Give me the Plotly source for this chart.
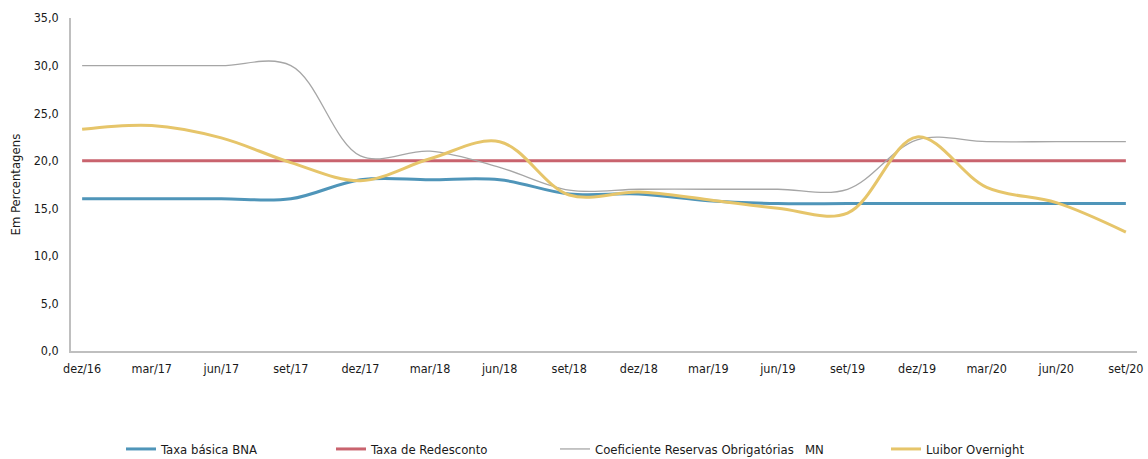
import plotly.graph_objects as go

categories = ["dez/16", "mar/17", "jun/17", "set/17", "dez/17", "mar/18", "jun/18", "set/18",
              "dez/18", "mar/19", "jun/19", "set/19", "dez/19", "mar/20", "jun/20", "set/20"]

taxa_basica = [16.0, 16.0, 16.0, 16.0, 18.0, 18.0, 18.0, 16.5, 16.5, 15.8, 15.5, 15.5, 15.5, 15.5, 15.5, 15.5]
taxa_redesconto = [20.0] * 16
coef_reservas = [30.0, 30.0, 30.0, 30.0, 20.5, 21.0, 19.3, 16.9, 17.0, 17.0, 17.0, 17.0, 22.2, 22.0, 22.0, 22.0]
luibor = [23.3, 23.7, 22.4, 19.8, 17.9, 20.2, 22.0, 16.4, 16.7, 15.9, 15.0, 14.5, 22.5, 17.2, 15.6, 12.5]

names = ["Taxa básica BNA", "Taxa de Redesconto", "Coeficiente Reservas Obrigatórias   MN", "Luibor Overnight"]
colors = ["#4f95b9", "#c9636e", "#a6a6a6", "#e6c56a"]
widths = [3, 3, 1.3, 3]
series = [taxa_basica, taxa_redesconto, coef_reservas, luibor]

FONT = "DejaVu Sans Condensed, Liberation Sans Narrow, Arial Narrow, sans-serif"

fig = go.Figure()
legend_ids = ["legend2", "legend3", "legend4", "legend5"]
for nm, col, w, s, lid in zip(names, colors, widths, series, legend_ids):
    fig.add_trace(go.Scatter(
        x=list(range(len(categories))), y=s, name=nm, mode="lines",
        line=dict(color=col, width=w, shape="spline", smoothing=1.0),
        legend=lid, showlegend=True, hoverinfo="skip"))

L, R, T, B = 71, 11, 18, 108
W, H = 1148, 459
pw = W - L - R
ph = H - T - B
line_starts = [126, 336, 560, 891]

layout_legends = {}
for lid, px in zip(legend_ids, line_starts):
    layout_legends[lid] = dict(
        x=(px - L - 5) / pw, xanchor="left",
        yref="container", y=(H - 449) / H, yanchor="middle",
        orientation="h", bgcolor="rgba(0,0,0,0)", borderwidth=0, visible=True,
        font=dict(family=FONT, size=13, color="#1a1a1a"), itemwidth=30)

fig.update_layout(
    width=W, height=H,
    margin=dict(l=L, r=R, t=T, b=B, autoexpand=False),
    paper_bgcolor="white", plot_bgcolor="white",
    separators=",.",
    showlegend=True,
    font=dict(family=FONT, size=12, color="#1a1a1a"),
    xaxis=dict(
        range=[-0.16, 15.16], tickmode="array", tickvals=list(range(len(categories))),
        ticktext=categories, showgrid=False, zeroline=False, showline=True,
        linecolor="#bfbfbf", linewidth=1.5, ticks="", ticklabelstandoff=5,
        tickfont=dict(family=FONT, size=12.5, color="#1a1a1a")),
    yaxis=dict(
        range=[0, 35], dtick=5, tickformat=".1f", showgrid=False, zeroline=False,
        showline=True, linecolor="#bfbfbf", linewidth=1.5, ticks="",
        ticklabelstandoff=8,
        tickfont=dict(family=FONT, size=12.5, color="#1a1a1a")),
    annotations=[dict(
        text="Em Percentagens", textangle=-90, xref="paper", yref="paper",
        x=-(L - 15) / pw, xanchor="center", y=0.5, yanchor="middle", showarrow=False,
        font=dict(family=FONT, size=13, color="#1a1a1a"))],
    **layout_legends,
)

fig.write_html("out.html", config={"displayModeBar": False},
               post_script="document.body.style.margin='0px';")
